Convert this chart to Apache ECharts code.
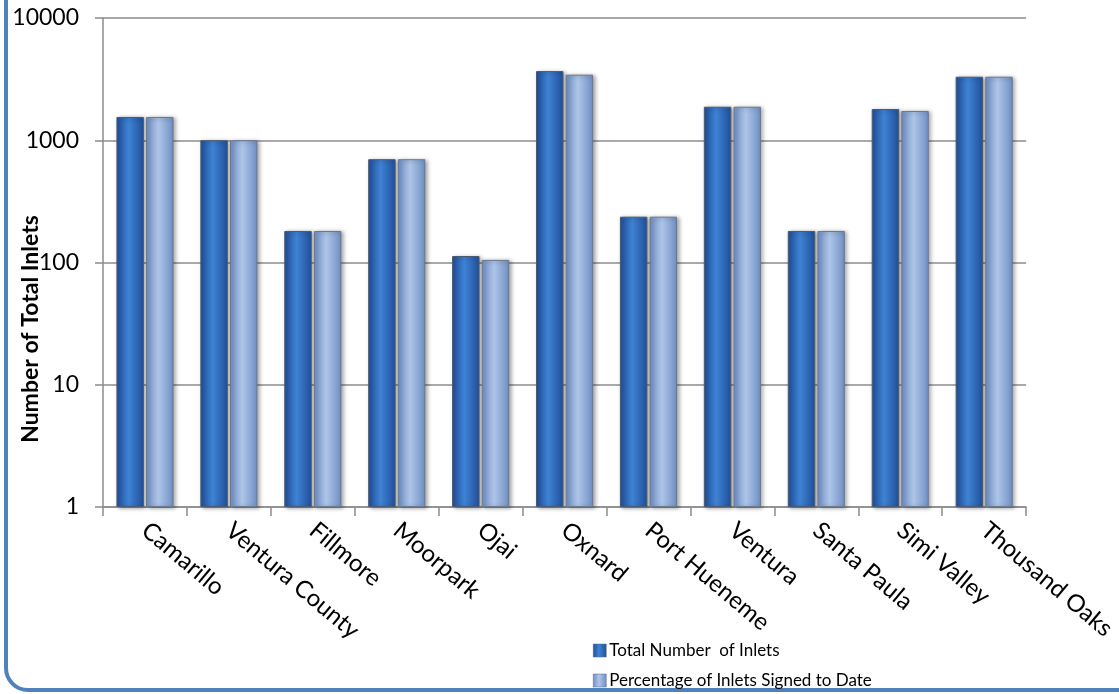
<!DOCTYPE html>
<html>
<head>
<meta charset="utf-8">
<script src="https://cdn.jsdelivr.net/npm/echarts@6/dist/echarts.min.js"></script>
<style>
  html, body { margin: 0; padding: 0; background: #fff; }
  #chart { width: 1119px; height: 694px; }
</style>
</head>
<body>
<div id="chart"></div>
<script>
// Storm drain inlet counts by jurisdiction (log scale)
const categories = ['Camarillo', 'Ventura County', 'Fillmore', 'Moorpark', 'Ojai', 'Oxnard',
  'Port Hueneme', 'Ventura', 'Santa Paula', 'Simi Valley', 'Thousand Oaks'];
const totalInlets = [1550, 1000, 181, 700, 113, 3680, 237, 1880, 181, 1800, 3310];
const signedInlets = [1550, 1000, 181, 700, 105, 3440, 237, 1880, 181, 1735, 3310];
const seriesNames = ['Total Number  of Inlets', 'Percentage of Inlets Signed to Date'];
const yAxisTitle = 'Number of Total Inlets';

const FONT = 'Lato';

function barGradient(edge, mid) {
  return new echarts.graphic.LinearGradient(0, 0, 1, 0, [
    { offset: 0, color: edge },
    { offset: 0.45, color: mid },
    { offset: 1, color: edge }
  ]);
}
const darkFill = () => barGradient('#1f4f9a', '#3f82d4');
const lightFill = () => barGradient('#6f8fc4', '#aec5e8');

function legendItem(name, fill, top) {
  return {
    orient: 'horizontal',
    left: 588,
    top: top,
    itemWidth: 13,
    itemHeight: 13,
    icon: 'rect',
    selectedMode: false,
    textStyle: { fontFamily: FONT, fontSize: 17, color: '#000', padding: [0, 0, 0, -2] },
    data: [{ name: name, itemStyle: { color: fill, borderColor: '#5a6a80', borderWidth: 0.5 } }]
  };
}

const chart = echarts.init(document.getElementById('chart'), null, { renderer: 'canvas' });

chart.setOption({
  animation: false,
  backgroundColor: '#ffffff',
  textStyle: { fontFamily: FONT },
  graphic: [
    {
      type: 'rect',
      shape: { x: 6, y: -40, width: 1160, height: 730, r: 22 },
      style: { fill: 'none', stroke: '#4f81bd', lineWidth: 4 },
      z: 0
    },
    {
      type: 'text',
      x: 31,
      y: 329,
      rotation: Math.PI / 2,
      style: {
        text: yAxisTitle,
        font: 'bold 23px Lato',
        fill: '#000',
        align: 'center',
        verticalAlign: 'middle'
      },
      z: 10
    }
  ],
  grid: { left: 103, right: 91, top: 18, bottom: 187, containLabel: false },
  legend: [
    legendItem(seriesNames[0], darkFill(), 637),
    legendItem(seriesNames[1], lightFill(), 667)
  ],
  xAxis: {
    type: 'category',
    data: categories,
    axisLine: { show: true, lineStyle: { color: '#8c8c8c', width: 1.5 } },
    axisTick: { show: true, length: 9, lineStyle: { color: '#8c8c8c', width: 1.5 } },
    axisLabel: {
      rotate: -40,
      interval: 0,
      fontFamily: FONT,
      fontSize: 24,
      color: '#000',
      margin: 20
    }
  },
  yAxis: {
    type: 'log',
    logBase: 10,
    min: 1,
    max: 10000,
    axisLine: { show: true, lineStyle: { color: '#8c8c8c', width: 1.5 } },
    axisTick: { show: true, length: 8, lineStyle: { color: '#8c8c8c', width: 1.5 } },
    axisLabel: {
      fontFamily: FONT,
      fontSize: 23,
      color: '#000',
      margin: 24,
      formatter: v => String(Math.round(v))
    },
    splitLine: { show: true, lineStyle: { color: '#8c8c8c', width: 1.5 } }
  },
  series: [
    {
      name: seriesNames[0],
      type: 'bar',
      data: totalInlets,
      barCategoryGap: '32%',
      barGap: '8%',
      itemStyle: {
        color: darkFill(),
        borderColor: '#4a5a72',
        borderWidth: 1,
        shadowColor: 'rgba(0,0,0,0.35)',
        shadowBlur: 4,
        shadowOffsetX: 2,
        shadowOffsetY: 1
      }
    },
    {
      name: seriesNames[1],
      type: 'bar',
      data: signedInlets,
      itemStyle: {
        color: lightFill(),
        borderColor: '#6a7890',
        borderWidth: 1,
        shadowColor: 'rgba(0,0,0,0.35)',
        shadowBlur: 4,
        shadowOffsetX: 2,
        shadowOffsetY: 1
      }
    }
  ]
});
</script>
</body>
</html>
